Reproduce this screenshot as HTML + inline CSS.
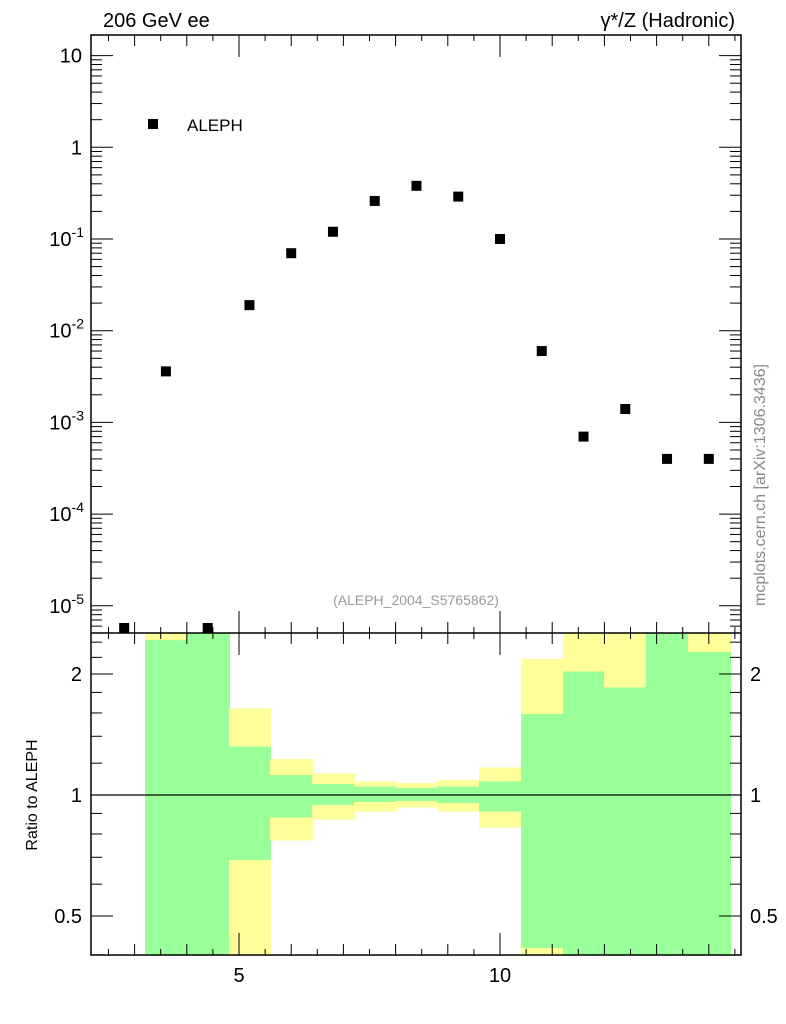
<!DOCTYPE html>
<html><head><meta charset="utf-8"><style>
html,body{margin:0;padding:0;background:#fff;}
svg{display:block;font-family:"Liberation Sans",Arial,sans-serif;}
</style></head><body>
<svg id="chart" width="786" height="1024" viewBox="0 0 786 1024">
<g id="bands" shape-rendering="crispEdges"></g>
<g id="marks"></g>
<g id="axes"></g>
<text x="103" y="27" font-size="20">206 GeV ee</text>
<text x="735" y="27" font-size="20" text-anchor="end">γ*/Z (Hadronic)</text>
<rect x="148" y="119" width="10" height="10" fill="#000"/>
<text x="187" y="131" font-size="17">ALEPH</text>
<text x="416" y="605" font-size="14" fill="#999" text-anchor="middle">(ALEPH_2004_S5765862)</text>
<text transform="translate(765,485) rotate(-90)" font-size="16" fill="#888" text-anchor="middle">mcplots.cern.ch [arXiv:1306.3436]</text>
<text transform="translate(37,795) rotate(-90)" font-size="16" text-anchor="middle">Ratio to ALEPH</text>
</svg>
<script>
const xs=[2.8,3.6,4.4,5.2,6.0,6.8,7.6,8.4,9.2,10.0,10.8,11.6,12.4,13.2,14.0];
const ys=[4e-6,3.6e-3,4e-6,0.019,0.07,0.12,0.26,0.38,0.29,0.10,0.006,7e-4,1.4e-3,4e-4,4e-4];
const binLo=[3.2,4.0,4.8,5.6,6.4,7.2,8.0,8.8,9.6,10.4,11.2,12.0,12.8,13.6];
const yelLo=[0.3,0.3,0.3,0.77,0.87,0.91,0.93,0.91,0.83,0.3,0.3,0.3,0.3,0.3];
const yelHi=[3,3,1.64,1.23,1.13,1.08,1.07,1.09,1.17,2.18,3,3,3,3];
const grnLo=[0.3,0.3,0.69,0.88,0.944,0.96,0.966,0.955,0.91,0.416,0.3,0.3,0.3,0.3];
const grnHi=[2.43,3,1.32,1.12,1.065,1.05,1.04,1.05,1.08,1.59,2.03,1.85,3,2.27];
const binW=0.8;
const xTicks=[5,10];
const yTicks=[10,1,0.1,0.01,0.001,1e-4,1e-5];
const yTickExp=["","","-1","-2","-3","-4","-5"];
const rTicks=[0.5,1,2];

const L=91,R=741,T=35,MB=633,RB=955;
const NS="http://www.w3.org/2000/svg";
const X=v=>239+(v-5)*52.2;
const Y=v=>147.3-Math.log10(v)*91.7;
const RY=v=>795-Math.log2(v)*121;
const clampR=v=>Math.max(MB,Math.min(RB,RY(v)));
function el(p,t,a){const e=document.createElementNS(NS,t);for(const k in a)e.setAttribute(k,a[k]);p.appendChild(e);return e;}
const bands=document.getElementById('bands'),marks=document.getElementById('marks'),axes=document.getElementById('axes');
binLo.forEach((b,i)=>{
 const x0=Math.round(X(b)),x1=Math.round(X(b+binW))+1;
 let y0=clampR(yelHi[i]),y1=clampR(yelLo[i]);
 const ry=el(bands,'rect',{x:x0,y:y0,width:x1-x0,height:y1-y0,fill:'#ffff99'});
 
 
 y0=clampR(grnHi[i]);y1=clampR(grnLo[i]);
 const rg=el(bands,'rect',{x:x0,y:y0,width:x1-x0,height:y1-y0,fill:'#99ff99'});
 
 
});
el(axes,'line',{x1:L,x2:R,y1:RY(1),y2:RY(1),stroke:'#000','stroke-width':1.2});
xs.forEach((x,i)=>{
 const cy=Math.min(Y(ys[i]),MB-5);
 const r=el(marks,'rect',{x:X(x)-5,y:cy-5,width:10,height:Math.max(0,Math.min(10,MB-(cy-5))),fill:'#000'});
 
 
});
el(axes,'rect',{x:L,y:T,width:R-L,height:RB-T,fill:'none',stroke:'#000','stroke-width':1.5});
el(axes,'line',{x1:L,x2:R,y1:MB,y2:MB,stroke:'#000','stroke-width':1.5});
for(let v=2.5;v<=14.6;v+=0.5){
 const major=Math.abs(v-Math.round(v/5)*5)<1e-6, mid=Math.abs(v-Math.round(v))<1e-6;
 const len=major?22:(mid?11:6);const x=X(v);
 [[T,1],[MB,-1],[MB,1],[RB,-1]].forEach(([y,d])=>el(axes,'line',{x1:x,x2:x,y1:y,y2:y+d*len,stroke:'#000','stroke-width':1}));
}
xTicks.forEach(v=>{const t=el(axes,'text',{x:X(v),y:982,'font-size':20,'text-anchor':'middle'});t.textContent=v;
 });
for(let d=-6;d<=1;d++)for(let m=1;m<10;m++){
 const v=m*Math.pow(10,d);const y=Y(v);if(y<T||y>MB)continue;
 const len=m==1?22:11;
 el(axes,'line',{x1:L,x2:L+len,y1:y,y2:y,stroke:'#000'});
 el(axes,'line',{x1:R,x2:R-len,y1:y,y2:y,stroke:'#000'});
}
yTicks.forEach((v,i)=>{
 const t=el(axes,'text',{x:82,y:Y(v)+7,'font-size':20,'text-anchor':'end'});
 
 if(yTickExp[i]===""){t.textContent=String(v);}
 else{const a=document.createElementNS(NS,'tspan');a.textContent='10';t.appendChild(a);
  const b=document.createElementNS(NS,'tspan');b.setAttribute('dy','-9');b.setAttribute('font-size','14');b.textContent=yTickExp[i];t.appendChild(b);
  t.setAttribute('x',84);}
});
[0.4,0.5,0.6,0.7,0.8,0.9,1,1.2,1.4,1.6,1.8,2,2.2,2.4].forEach(v=>{
 const y=RY(v);if(y<MB||y>RB)return;const len=[0.5,1,2].includes(v)?22:11;
 el(axes,'line',{x1:L,x2:L+len,y1:y,y2:y,stroke:'#000'});
 el(axes,'line',{x1:R,x2:R-len,y1:y,y2:y,stroke:'#000'});
});
rTicks.forEach(v=>{
 const t=el(axes,'text',{x:82,y:RY(v)+7,'font-size':20,'text-anchor':'end'});t.textContent=v;
 
 const t2=el(axes,'text',{x:750,y:RY(v)+7,'font-size':20});t2.textContent=v;
 
});
</script>
</body></html>
